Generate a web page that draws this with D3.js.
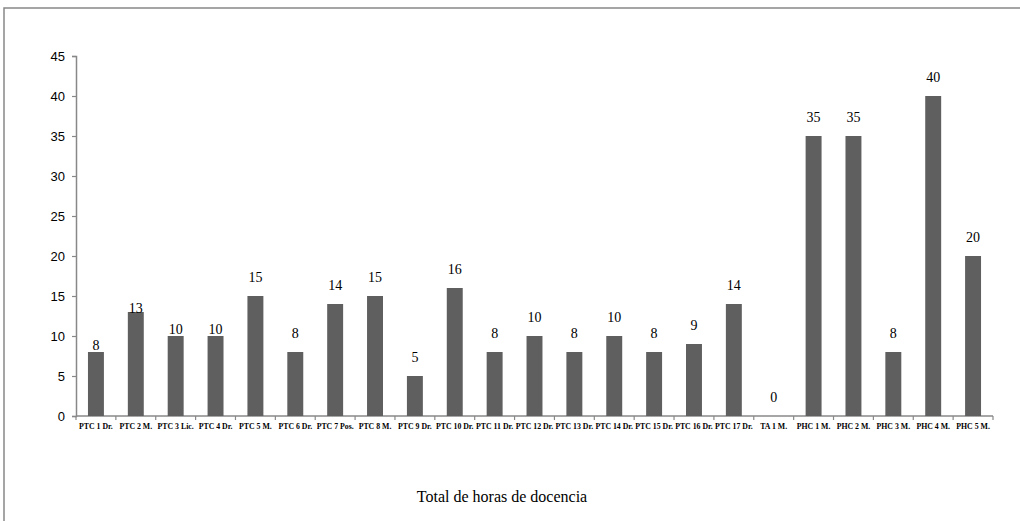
<!DOCTYPE html>
<html>
<head>
<meta charset="utf-8">
<script src="https://cdn.jsdelivr.net/npm/d3@7/dist/d3.min.js"></script>
<style>
  html, body { margin: 0; padding: 0; background: #fff; }
  svg { display: block; }
  .serif { font-family: 'Liberation Serif', 'Times New Roman', serif; }
  .sans { font-family: 'Liberation Sans', Arial, sans-serif; }
</style>
</head>
<body>
<script>
const categories = ["PTC 1 Dr.", "PTC 2 M.", "PTC 3 Lic.", "PTC 4 Dr.", "PTC 5 M.", "PTC 6 Dr.", "PTC 7 Pos.", "PTC 8 M.", "PTC 9 Dr.", "PTC 10 Dr.", "PTC 11 Dr.", "PTC 12 Dr.", "PTC 13 Dr.", "PTC 14 Dr.", "PTC 15 Dr.", "PTC 16 Dr.", "PTC 17 Dr.", "TA 1 M.", "PHC 1 M.", "PHC 2 M.", "PHC 3 M.", "PHC 4 M.", "PHC 5 M."];
const hours = [8, 13, 10, 10, 15, 8, 14, 15, 5, 16, 8, 10, 8, 10, 8, 9, 14, 0, 35, 35, 8, 40, 20];
const yTicks = [0, 5, 10, 15, 20, 25, 30, 35, 40, 45];
const chartTitle = "Total de horas de docencia";

// label placement (style): default lift above bar top, with a few exceptions as in the original
const defaultLift = 14;
const liftOverride = { "PTC 1 Dr.": 2, "PTC 2 M.": -1, "PTC 3 Lic.": 2, "PTC 4 Dr.": 2 };

const W = 1020, H = 521;
const margin = { left: 76, right: 27, top: 56, bottom: 105 };

const svg = d3.select("body").append("svg").attr("width", W).attr("height", H);

// frame
svg.append("path")
  .attr("d", `M4,${H + 2} L4,8 L${W + 2},8`)
  .attr("fill", "none").attr("stroke", "#888").attr("stroke-width", 1.5);

const x = d3.scaleBand().domain(categories).range([margin.left, W - margin.right]).paddingInner(0.6).paddingOuter(0.3);
const y = d3.scaleLinear().domain([0, 45]).range([H - margin.bottom, margin.top]);

const axisColor = "#888";

// y axis
const yAxis = svg.append("g").attr("transform", `translate(${margin.left},0)`)
  .call(d3.axisLeft(y).tickValues(yTicks).tickSize(4).tickPadding(7));
yAxis.attr("font-family", null);
yAxis.select(".domain").attr("stroke", axisColor).attr("stroke-width", 1.5);
yAxis.selectAll(".tick line").attr("stroke", axisColor).attr("stroke-width", 1.2);
yAxis.selectAll(".tick text").attr("class", "sans").attr("font-size", 13).attr("fill", "#000");

// x axis line
const x0 = margin.left, x1 = W - margin.right, yb = y(0);
svg.append("line").attr("x1", x0).attr("x2", x1).attr("y1", yb).attr("y2", yb)
  .attr("stroke", axisColor).attr("stroke-width", 1.5);

// x ticks at category boundaries
const boundaries = d3.range(categories.length + 1).map(i => x0 + i * (x1 - x0) / categories.length);
svg.selectAll("line.xt").data(boundaries).enter().append("line").attr("class", "xt")
  .attr("x1", d => d).attr("x2", d => d).attr("y1", yb).attr("y2", yb + 4)
  .attr("stroke", axisColor).attr("stroke-width", 1.2);

// category labels
svg.selectAll("text.cat").data(categories).enter().append("text").attr("class", "cat serif")
  .attr("x", d => x(d) + x.bandwidth() / 2).attr("y", yb + 12.5)
  .attr("text-anchor", "middle")
  .attr("font-weight", "bold").attr("font-size", 7.8)
  .attr("fill", "#000")
  .text(d => d);

// bars
svg.selectAll("rect.bar").data(hours).enter().append("rect").attr("class", "bar")
  .attr("x", (d, i) => x(categories[i]))
  .attr("width", x.bandwidth())
  .attr("y", d => y(d))
  .attr("height", d => y(0) - y(d))
  .attr("fill", "#5f5f5f");

// value labels
svg.selectAll("text.val").data(hours).enter().append("text").attr("class", "val serif")
  .attr("x", (d, i) => x(categories[i]) + x.bandwidth() / 2)
  .attr("y", (d, i) => y(d) - (liftOverride[categories[i]] ?? defaultLift))
  .attr("text-anchor", "middle")
  .attr("font-size", 14)
  .attr("fill", "#000")
  .text(d => d);

// title
svg.append("text").attr("class", "serif").attr("x", 502).attr("y", 502).attr("text-anchor", "middle")
  .attr("font-size", 16)
  .attr("fill", "#000").text(chartTitle);
</script>
</body>
</html>
